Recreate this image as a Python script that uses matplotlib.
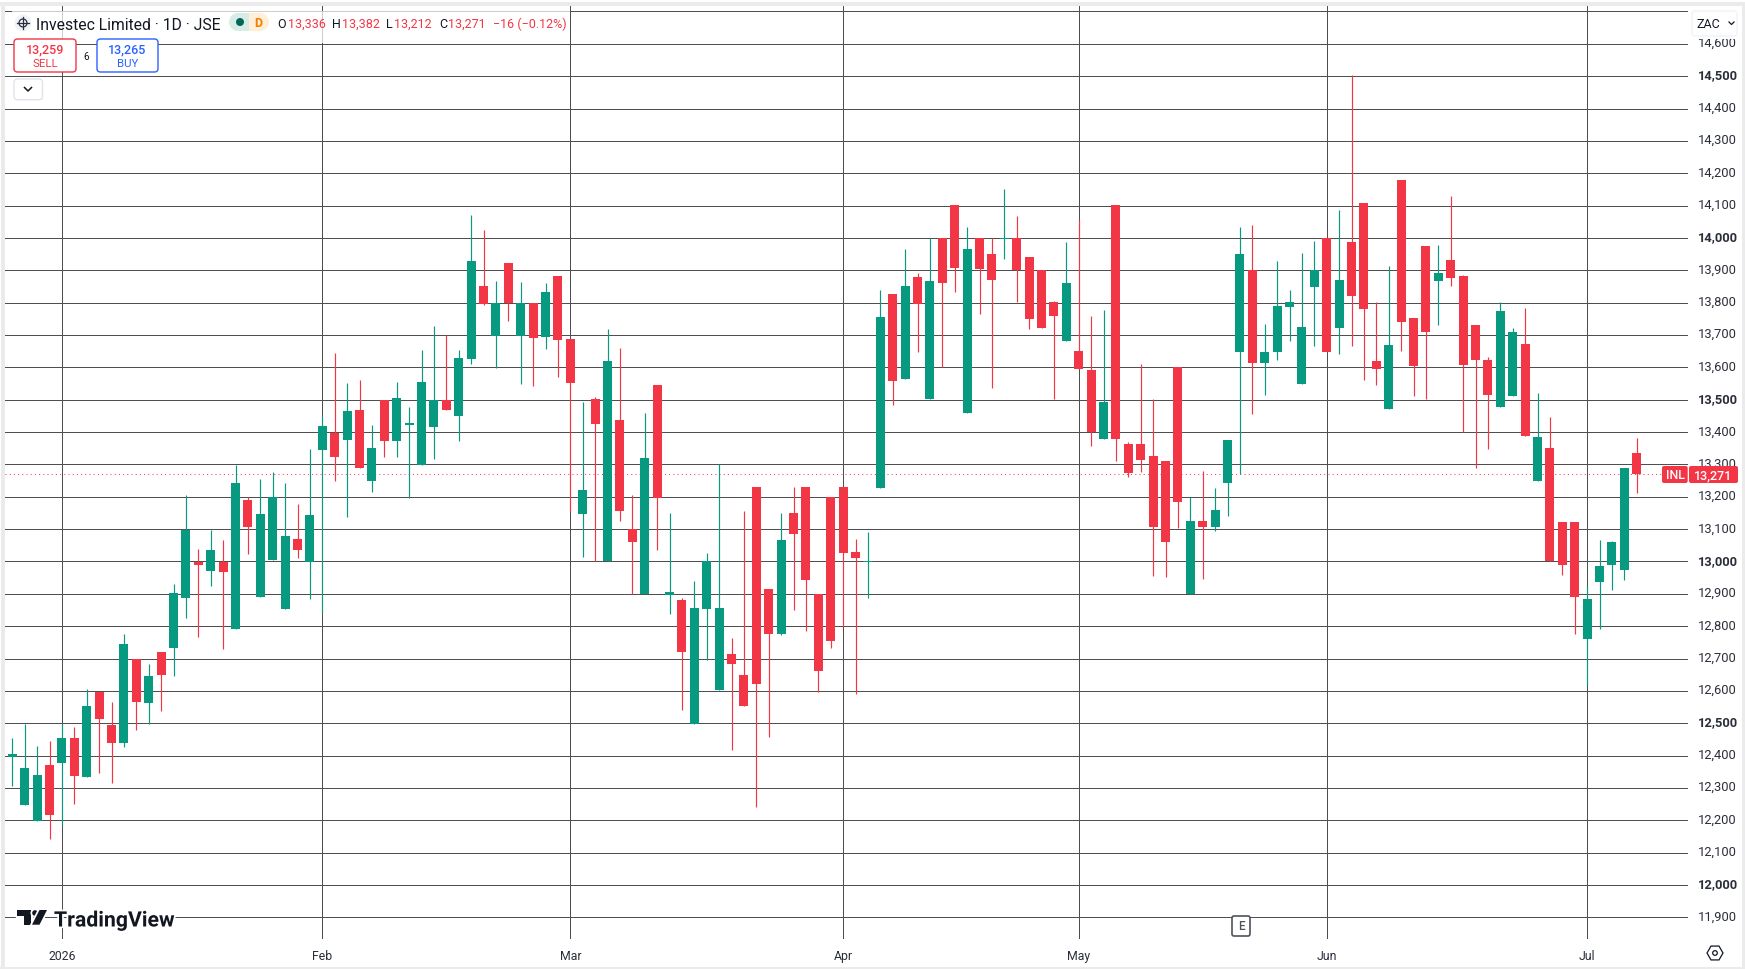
import matplotlib
matplotlib.use("Agg")
import matplotlib.pyplot as plt
import matplotlib.patheffects as pe
from matplotlib.patches import Circle, FancyBboxPatch, Polygon, Rectangle, RegularPolygon, Wedge
from matplotlib.transforms import ScaledTranslation

plt.rcParams["font.family"] = ["Roboto", "DejaVu Sans"]

# daily OHLC, ZAC
opens = [12395, 12246, 12198, 12372, 12376, 12455, 12333, 12596, 12495, 12438,
         12698, 12561, 12721, 12734, 12886, 12998, 12969, 12998, 12790, 13191,
         12889, 13006, 12852, 13070, 12998, 13346, 13397, 13377, 13467, 13248,
         13500, 13371, 13423, 13297, 13416, 13500, 13450, 13626, 13851, 13698,
         13922, 13698, 13800, 13694, 13882, 13687, 13147, 13501, 13001, 13436,
         13099, 12899, 13545, 12897, 12881, 12499, 12854, 12603, 12714, 12649,
         13230, 12915, 12777, 13150, 13230, 12898, 13198, 13230, 13029, 13000,
         13228, 13827, 13565, 13880, 13501, 14000, 14101, 13460, 14000, 13951,
         14000, 14000, 13941, 13900, 13801, 13683, 13651, 13592, 13380, 14101,
         13362, 13362, 13326, 13311, 13600, 12899, 13125, 13108, 13241, 13649,
         13900, 13615, 13649, 13788, 13550, 13849, 14000, 13723, 13988, 14108,
         13620, 13470, 14180, 13753, 13976, 13868, 13932, 13883, 13731, 13623,
         13476, 13510, 13673, 13250, 13352, 13123, 13123, 12759, 12935, 12988,
         12975, 13336]
highs = [12455, 12497, 12430, 12446, 12497, 12489, 12607, 12596, 12566, 12777,
         12698, 12684, 12721, 12931, 13206, 13039, 13096, 13067, 13298, 13200,
         13256, 13277, 13243, 13179, 13347, 13451, 13643, 13551, 13560, 13423,
         13500, 13554, 13478, 13653, 13727, 13699, 13653, 14070, 14024, 13866,
         13922, 13863, 13800, 13860, 13882, 13687, 13492, 13508, 13718, 13659,
         13205, 13458, 13545, 13149, 12887, 12939, 13026, 13300, 12763, 13156,
         13230, 12915, 13150, 13230, 13230, 12898, 13198, 13230, 13069, 13091,
         13839, 13827, 13966, 13892, 14000, 14000, 14101, 14034, 14000, 14000,
         14152, 14068, 13941, 13900, 13804, 13988, 14054, 13759, 13778, 14101,
         13368, 13610, 13501, 13311, 13600, 13198, 13280, 13227, 13376, 14034,
         14040, 13734, 13929, 13839, 13954, 13991, 14000, 14087, 14504, 14108,
         13801, 13914, 14180, 13753, 13976, 13979, 14130, 13886, 13731, 13632,
         13801, 13722, 13784, 13521, 13447, 13123, 13123, 12923, 13067, 13064,
         13290, 13382]
lows = [12305, 12246, 12198, 12141, 12184, 12249, 12333, 12345, 12314, 12425,
        12478, 12497, 12537, 12645, 12824, 12768, 12923, 12728, 12790, 13022,
        12889, 13006, 12852, 13010, 12883, 12841, 13248, 13136, 13288, 13214,
        13322, 13322, 13196, 13297, 13317, 13468, 13373, 13611, 13793, 13598,
        13743, 13549, 13543, 13657, 13570, 13156, 13014, 13000, 13001, 13125,
        12898, 12899, 13036, 12838, 12542, 12499, 12694, 12603, 12418, 12554,
        12242, 12458, 12773, 12851, 12786, 12598, 12733, 12796, 12591, 12888,
        13228, 13485, 13565, 13646, 13501, 13600, 13834, 13460, 13766, 13537,
        13936, 13801, 13720, 13723, 13502, 13683, 13596, 13358, 13380, 13312,
        13262, 13278, 12956, 12953, 13102, 12899, 12947, 13095, 13142, 13270,
        13457, 13516, 13624, 13680, 13550, 13667, 13648, 13640, 13667, 13562,
        13544, 13470, 13652, 13510, 13503, 13732, 13853, 13401, 13290, 13349,
        13476, 13510, 13389, 13250, 13001, 12957, 12775, 12617, 12790, 12913,
        12944, 13212]
closes = [12406, 12362, 12341, 12215, 12455, 12336, 12554, 12512, 12438, 12746,
          12567, 12647, 12648, 12903, 13097, 12988, 13036, 12966, 13243, 13105,
          13148, 13200, 13080, 13034, 13145, 13420, 13322, 13466, 13288, 13352,
          13371, 13504, 13427, 13554, 13500, 13468, 13628, 13928, 13796, 13800,
          13800, 13800, 13691, 13832, 13685, 13552, 13220, 13425, 13619, 13156,
          13060, 13319, 13196, 12905, 12721, 12856, 13001, 12856, 12684, 12554,
          12622, 12777, 13066, 13086, 12943, 12662, 12755, 13027, 13010, 13000,
          13756, 13559, 13852, 13797, 13867, 13862, 13908, 13966, 13905, 13871,
          14000, 13900, 13751, 13723, 13760, 13861, 13596, 13400, 13492, 13380,
          13275, 13315, 13108, 13061, 13185, 13125, 13108, 13159, 13376, 13951,
          13615, 13648, 13790, 13801, 13725, 13900, 13648, 13870, 13821, 13779,
          13595, 13669, 13739, 13603, 13708, 13892, 13875, 13606, 13624, 13516,
          13775, 13710, 13389, 13385, 13001, 12988, 12889, 12885, 12987, 13061,
          13290, 13271]

price_ticks = [11900, 12000, 12100, 12200, 12300, 12400, 12500, 12600, 12700, 12800,
               12900, 13000, 13100, 13200, 13300, 13400, 13500, 13600, 13700, 13800,
               13900, 14000, 14100, 14200, 14300, 14400, 14500, 14600, 14700]
strong_ticks = [12000, 12500, 13000, 13500, 14000, 14500]
hidden_ticks = [14700]
month_pos = [4, 25, 45, 67, 86, 106, 127]
month_names = ["2026", "Feb", "Mar", "Apr", "May", "Jun", "Jul"]
last_price = 13271

RED = "#f23645"
GREEN = "#089981"
GRID = "#4f4f4f"
BORDER = "#ebebeb"
INK = "#131722"
W, H = 1745, 970

fig = plt.figure(figsize=(W / 100, H / 100), dpi=100, facecolor="white")
ax = fig.add_axes([5 / W, 1 - 940 / H, (1687.7 - 5) / W, (940 - 7) / H])
ax.set_xlim(-0.589, 135.11)
ax.set_ylim(11833, 14717)
for s in ax.spines.values():
    s.set_visible(False)

ax.set_axisbelow(True)
ax.grid(True, color=GRID, lw=0.72)

ax.set_yticks(price_ticks)
ax.set_yticklabels([f"{v:,}" if v not in hidden_ticks else "" for v in price_ticks])
ax.yaxis.tick_right()
ax.tick_params(axis="y", length=0, pad=7.4, labelsize=9.3, labelcolor="#2a2e39")
nudge = ScaledTranslation(0, 2 / 72, fig.dpi_scale_trans)
for lab, v in zip(ax.get_yticklabels(), price_ticks):
    lab.set_transform(lab.get_transform() + nudge)
    if v in strong_ticks:
        lab.set_fontweight("bold")
ax.set_xticks(month_pos)
ax.set_xticklabels(month_names)
ax.tick_params(axis="x", length=0, pad=7.2, labelsize=8.8, labelcolor="#2a2e39")

ax.hlines(last_price, -0.589, 133.4, color=RED, lw=0.72, ls=(0, (1, 3.2)), zorder=2)

days = range(len(closes))
colors = [GREEN if c >= o else RED for o, c in zip(opens, closes)]
ax.vlines(days, lows, highs, color=colors, lw=0.85, zorder=3)
ax.bar(days, [abs(c - o) for o, c in zip(opens, closes)],
       bottom=[min(o, c) for o, c in zip(opens, closes)],
       width=0.73, color=colors, lw=0, zorder=4)
for d in days:
    if opens[d] == closes[d]:
        ax.hlines(opens[d], d - 0.36, d + 0.36, color=colors[d], lw=0.72, zorder=4)

# everything else on the page sits on a pixel-sized overlay
ov = fig.add_axes([0, 0, 1, 1])
ov.set_xlim(0, W)
ov.set_ylim(H, 0)
ov.axis("off")
ov.patch.set_alpha(0)


def box(x0, y0, x1, y1, fc="white", ec="none", lw=1.0, r=3.5, **kw):
    p = FancyBboxPatch((x0 + r, y0 + r), x1 - x0 - 2 * r, y1 - y0 - 2 * r,
                       boxstyle=f"round,pad={r},rounding_size={r}",
                       fc=fc, ec=ec, lw=lw, **kw)
    ov.add_patch(p)


def label(x, y, s, color=INK, size=9.0, ha="left", **kw):
    ov.text(x, y, s, color=color, fontsize=size, ha=ha, va="center", **kw)


# page frame
ov.add_patch(Rectangle((0, 3), W, 4, fc=BORDER, lw=0))
ov.add_patch(Rectangle((1, 3), 4, H, fc=BORDER, lw=0))
ov.add_patch(Rectangle((1741.7, 3), 3.3, H, fc=BORDER, lw=0))
ov.add_patch(Rectangle((0, 968), W, 2, fc=BORDER, lw=0))

# legend row
ov.add_patch(Rectangle((12, 12), 558, 32, fc="white", alpha=0.72, lw=0))
ov.add_patch(Circle((23, 24), 8.5, fc="#f0f3fa", lw=0))
ov.add_patch(Circle((23, 24), 4, fc="none", ec="#2a2e39", lw=0.9))
ov.plot([23, 23], [18, 30], color="#2a2e39", lw=0.9)
ov.plot([17, 29], [24, 24], color="#2a2e39", lw=0.9)
label(36, 25, "Investec Limited · 1D · JSE", size=11.3)
ov.add_patch(Wedge((238, 23), 9, 90, 270, fc="#d5ece7", lw=0))
ov.add_patch(Rectangle((238, 14), 11, 18, fc="#d5ece7", lw=0))
ov.add_patch(Rectangle((249, 14), 11, 18, fc="#ffefd9", lw=0))
ov.add_patch(Wedge((260, 23), 9, -90, 90, fc="#ffefd9", lw=0))
ov.add_patch(Circle((240, 23), 4, fc="#056656", lw=0))
label(258, 23.5, "D", color="#f57c00", ha="center", weight="bold")
for x0, letter, x1, val in [(277, "O", 288, opens[-1]), (332, "H", 342, highs[-1]),
                            (386.5, "L", 394, lows[-1]), (439, "C", 448, closes[-1])]:
    label(x0, 24.5, letter)
    label(x1, 24.5, f"{val:,}", color=RED)
label(493, 24.5, "−16 (−0.12%)", color=RED)

# sell / buy buttons
box(14, 40, 76, 73, ec=RED)
label(45, 50, "13,259", color=RED, ha="center", weight="medium")
label(45, 64, "SELL", color=RED, ha="center", size=8.2)
label(86, 56.5, "6", size=7.2, ha="center")
box(97, 40, 158, 73, ec="#2962ff")
label(127.5, 50, "13,265", color="#2962ff", ha="center", weight="medium")
label(127.5, 64, "BUY", color="#2962ff", ha="center", size=8.2)
box(14, 80, 42.5, 100.7, ec="#e0e3eb")
ov.plot([24.5, 28, 31.5], [88.5, 92, 88.5], color=INK, lw=1.1)

# currency box and last price tags
ov.add_patch(Rectangle((1690, 9), 50, 31, fc="white", lw=0))
box(1692, 12, 1737, 37, ec="#f0f3fa")
label(1696, 24, "ZAC", size=9.0)
ov.plot([1729, 1731.5, 1734], [23, 25.5, 23], color=INK, lw=0.9)
box(1662, 467, 1687.7, 484, fc=RED, r=2)
box(1689, 467, 1738, 484, fc=RED, r=2)
label(1675, 475.5, "INL", color="white", ha="center", weight="medium")
label(1713.5, 475.5, f"{last_price:,}", color="white", ha="center", weight="medium")

# watermark
halo = [pe.withStroke(linewidth=2.5, foreground="white")]
ov.add_patch(Polygon([(17, 911), (31, 911), (31, 925.7), (24, 925.7), (24, 917), (17, 917)],
                     fc=INK, lw=0, path_effects=halo))
ov.add_patch(Circle((35, 914), 2.8, fc=INK, lw=0, path_effects=halo))
ov.add_patch(Polygon([(39.5, 911), (47, 911), (39.5, 925.7), (32, 925.7)],
                     fc=INK, lw=0, path_effects=halo))
label(54, 922, "TradingView", size=15.3, weight="bold", path_effects=halo)

# earnings marker and settings hexagon
box(1232, 917, 1250, 937, ec="#50535e", lw=1.2, r=2)
label(1241, 927, "E", color="#50535e", ha="center", size=8.5, weight="medium")
ov.add_patch(RegularPolygon((1715, 954), 6, radius=8, fc="none", ec=INK, lw=0.9,
                            orientation=0.5236))
ov.add_patch(Circle((1715, 954), 2.3, fc="none", ec=INK, lw=0.9))

fig.savefig("out.png", dpi=100)
